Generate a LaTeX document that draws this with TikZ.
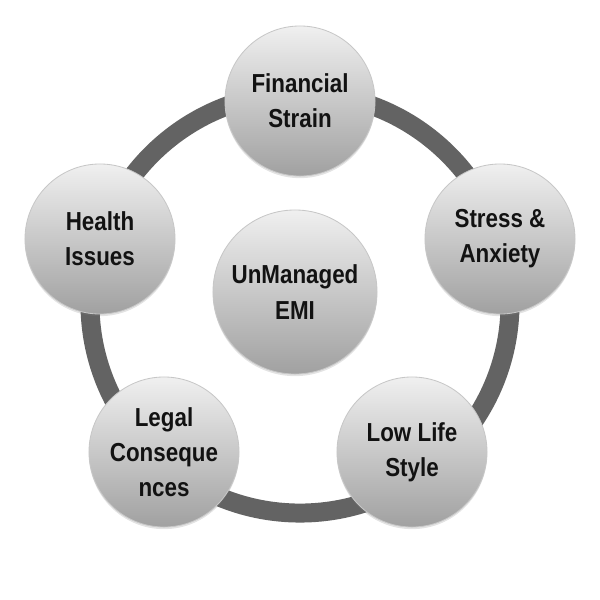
\documentclass[tikz,border=0pt]{standalone}
\usepackage{fontspec}
\setmainfont{Liberation Sans}
\newfontfamily\labelfont[FakeStretch=0.86]{Liberation Sans}
\usetikzlibrary{shadows}
\tikzset{
  bubble/.style={
    circle, draw=black!22, line width=0.6pt,
    top color=black!6, bottom color=black!37,
    minimum size=3.75cm, inner sep=0pt, align=center,
    text=black!93,
    font=\labelfont\bfseries\fontsize{18.5}{25}\selectfont,
    drop shadow={opacity=0.22, shadow xshift=0pt, shadow yshift=-1.5pt}
  },
  ring/.style={draw=black!61, line width=13.5pt},
}
\begin{document}
\begin{tikzpicture}[x=0.025cm, y=-0.025cm]
  \useasboundingbox (0,0) rectangle (600,600);

  % Ring
  \draw[ring] (300,303) circle[radius=5.25cm];

  % Outer bubbles
  \node[bubble] (fin) at (300,101) {Financial\\Strain};
  \node[bubble] (stress) at (500,239) {Stress \&\\Anxiety};
  \node[bubble] (life) at (412,452) {Low Life\\Style};
  \node[bubble] (legal) at (164,452) {Legal\\Conseque\\nces};
  \node[bubble] (health) at (100,239) {Health\\Issues};

  % Centre bubble
  \node[bubble, minimum size=4.1cm] (emi) at (295,292) {UnManaged\\EMI};
\end{tikzpicture}
\end{document}
